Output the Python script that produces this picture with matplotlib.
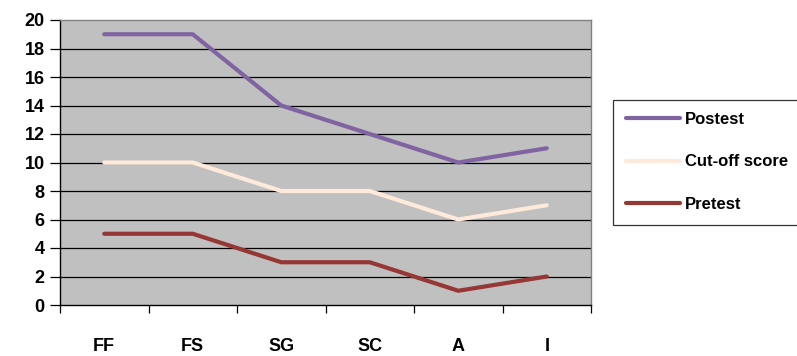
import matplotlib
matplotlib.use("Agg")
import matplotlib.pyplot as plt
import numpy as np

categories = ["FF", "FS", "SG", "SC", "A", "I"]
postest = [19, 19, 14, 12, 10, 11]
cutoff = [10, 10, 8, 8, 6, 7]
pretest = [5, 5, 3, 3, 1, 2]
yticks = [0, 2, 4, 6, 8, 10, 12, 14, 16, 18, 20]

plt.rcParams['font.family'] = ['Liberation Sans', 'DejaVu Sans']
plt.rcParams['font.weight'] = 'bold'

fig = plt.figure(figsize=(7.97, 3.56), dpi=100)
ax = fig.add_axes([60/797, 51/356, 531/797, 285/356])
ax.set_facecolor("#C0C0C0")

x = np.arange(len(categories))
l1, = ax.plot(x, postest, color="#8064A2", lw=3, solid_joinstyle='round', solid_capstyle='round', label="Postest", zorder=3)
l2, = ax.plot(x, cutoff, color="#FDEADA", lw=3, solid_joinstyle='round', solid_capstyle='round', label="Cut-off score", zorder=3)
l3, = ax.plot(x, pretest, color="#953735", lw=3, solid_joinstyle='round', solid_capstyle='round', label="Pretest", zorder=3)

ax.set_xlim(-0.5, len(categories) - 0.5)
ax.set_ylim(0, 20)
ax.set_yticks(yticks)
ax.set_yticklabels([str(v) for v in yticks], fontsize=13, fontweight='bold')
for v in yticks[1:-1]:
    ax.axhline(v, color="black", lw=0.9, zorder=1)

ax.set_xticks(np.arange(-0.5, len(categories), 1.0))
ax.set_xticklabels([])
ax.set_xticks(x, minor=True)
ax.set_xticklabels(categories, minor=True, fontsize=13, fontweight='bold')
ax.tick_params(axis='x', which='major', direction='out', length=6, width=0.9, color='black')
ax.tick_params(axis='x', which='minor', length=0, pad=24)
ax.tick_params(axis='y', direction='out', length=7, width=0.9, pad=4)

ax.spines['left'].set_color('black')
ax.spines['bottom'].set_color('black')
ax.spines['top'].set_color('#808080')
ax.spines['right'].set_color('#808080')
for s in ax.spines.values():
    s.set_linewidth(1.0)

leg = fig.legend(handles=[l1, l2, l3], loc='center left',
                 bbox_to_anchor=(613/797, (356-162)/356),
                 frameon=True, fancybox=False, edgecolor='black',
                 prop={'size': 12, 'weight': 'bold'}, handlelength=3.25,
                 labelspacing=1.65, borderpad=0.75, handletextpad=0.3,
                 borderaxespad=0)
leg.get_frame().set_linewidth(0.9)

fig.savefig("out.png", dpi=100)
